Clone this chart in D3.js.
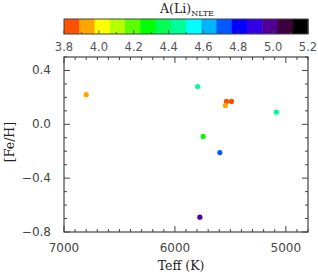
<!DOCTYPE html>
<html>
<head>
<meta charset="utf-8">
<script src="https://cdn.jsdelivr.net/npm/d3@7"></script>
<style>
  body { margin: 0; background: #fff; }
  svg { display: block; }
</style>
</head>
<body>
<script>
// star data
const teff = [6800, 5795, 5535, 5490, 5545, 5085, 5745, 5595, 5775];
const feh = [0.22, 0.28, 0.17, 0.17, 0.14, 0.09, -0.09, -0.21, -0.69];
const ali = [3.95, 4.45, 3.86, 3.86, 3.93, 4.45, 4.25, 4.75, 5.0];

const cbColors = ["#ff4f00", "#ffa500", "#ffff00", "#b5ff00", "#5aff00", "#00ff00",
    "#00ff55", "#00ff99", "#00ffff", "#00b4ff", "#005aff", "#0000ff",
    "#3200e6", "#500096", "#3c003c", "#000000"];
const cbTicks = [3.8, 4.0, 4.2, 4.4, 4.6, 4.8, 5.0, 5.2];
const xTicks = [7000, 6000, 5000];
const yTicks = [0.4, 0.0, -0.4, -0.8];

const width = 318, height = 275;
const m = {left: 64, right: 308, top: 57, bottom: 232};

const svg = d3.select('body').append('svg')
    .attr("width", width).attr("height", height);

const x = d3.scaleLinear().domain([7000, 4800]).range([m.left, m.right]);
const y = d3.scaleLinear().domain([-0.8, 0.5]).range([m.bottom, m.top]);

const cb = d3.scaleLinear().domain([3.8, 5.2]).range([m.left, m.right]);
const color = d3.scaleQuantize().domain([3.8, 5.2]).range(cbColors);

const axisCol = "#444";
const labFont = "DejaVu Sans, sans-serif";
const serif = "DejaVu Serif, serif";

// colour bar
const cbTop = 19, cbH = 15;
const step = 1.4 / cbColors.length;
svg.append("g")
    .selectAll("rect")
    .data(cbColors)
    .enter()
    .append("rect")
    .attr("x", (d, i) => cb(3.8 + i * step))
    .attr("width", (d, i) => cb(3.8 + (i + 1) * step) - cb(3.8 + i * step) + 0.5)
    .attr("y", cbTop)
    .attr("height", cbH)
    .attr("fill", d => d);

svg.append("rect")
    .attr("x", m.left).attr("y", cbTop)
    .attr("width", m.right - m.left).attr("height", cbH)
    .attr("fill", "none").attr("stroke", axisCol).attr("stroke-width", 1);

// small ticks on the colour bar
const cbMinor = d3.range(3.8, 5.2001, 0.1);
svg.append("g")
    .selectAll("line")
    .data(cbMinor)
    .enter()
    .append("line")
    .attr("x1", d => cb(d)).attr("x2", d => cb(d))
    .attr("y1", cbTop + cbH).attr("y2", (d, i) => cbTop + cbH - (i % 2 === 0 ? 4 : 2))
    .attr("stroke", axisCol).attr("stroke-width", 0.8);

svg.append("g")
    .selectAll("text")
    .data(cbTicks)
    .enter()
    .append("text")
    .attr("x", d => cb(d))
    .attr("y", 51)
    .attr("text-anchor", "middle")
    .style("font-family", labFont)
    .style("font-size", "11.5px")
    .style("fill", "#555")
    .text(d => d.toFixed(1));

const title = svg.append("text")
    .attr("x", 187).attr("y", 13)
    .attr("text-anchor", "middle")
    .style("font-family", serif)
    .style("font-size", "12.5px")
    .style("fill", "#222");
title.append("tspan").text("A(Li)");
title.append("tspan").attr("dy", 3).style("font-size", "8px").text("NLTE");

// plot frame
svg.append("rect")
    .attr("x", m.left).attr("y", m.top)
    .attr("width", m.right - m.left).attr("height", m.bottom - m.top)
    .attr("fill", "none").attr("stroke", axisCol).attr("stroke-width", 1.2);

// x ticks (bottom and top, inward)
const xMinor = d3.range(4800, 7001, 100);
const xg = svg.append("g");
xg.selectAll("line.b")
    .data(xMinor)
    .enter()
    .append("line")
    .attr("x1", d => x(d)).attr("x2", d => x(d))
    .attr("y1", m.bottom).attr("y2", d => m.bottom - (d % 1000 === 0 ? 6 : 3))
    .attr("stroke", axisCol);
xg.selectAll("line.t")
    .data(xMinor)
    .enter()
    .append("line")
    .attr("x1", d => x(d)).attr("x2", d => x(d))
    .attr("y1", m.top).attr("y2", d => m.top + (d % 1000 === 0 ? 6 : 3))
    .attr("stroke", axisCol);
xg.selectAll("text")
    .data(xTicks)
    .enter()
    .append("text")
    .attr("x", d => x(d))
    .attr("y", 252)
    .attr("text-anchor", "middle")
    .style("font-family", labFont)
    .style("font-size", "12px")
    .style("fill", "#444")
    .text(d => d);

// y ticks (left and right, inward)
const yMinor = d3.range(-8, 6).map(d => d / 10);
const yg = svg.append("g");
yg.selectAll("line.l")
    .data(yMinor)
    .enter()
    .append("line")
    .attr("y1", d => y(d)).attr("y2", d => y(d))
    .attr("x1", m.left).attr("x2", d => m.left + (Math.round(d * 10) % 4 === 0 ? 6 : 3))
    .attr("stroke", axisCol);
yg.selectAll("line.r")
    .data(yMinor)
    .enter()
    .append("line")
    .attr("y1", d => y(d)).attr("y2", d => y(d))
    .attr("x1", m.right).attr("x2", d => m.right - (Math.round(d * 10) % 4 === 0 ? 6 : 3))
    .attr("stroke", axisCol);
yg.selectAll("text")
    .data(yTicks)
    .enter()
    .append("text")
    .attr("x", 51)
    .attr("y", d => y(d) + 4)
    .attr("text-anchor", "end")
    .style("font-family", labFont)
    .style("font-size", "12px")
    .style("fill", "#444")
    .text(d => d3.format(".1f")(d).replace("-", "\u2212"));

// axis titles
svg.append("text")
    .attr("x", 181).attr("y", 270)
    .attr("text-anchor", "middle")
    .style("font-family", serif)
    .style("font-size", "12.5px")
    .style("fill", "#222")
    .text("Teff (K)");

svg.append("text")
    .attr("transform", "translate(14,142) rotate(-90)")
    .attr("text-anchor", "middle")
    .style("font-family", serif)
    .style("font-size", "12.5px")
    .style("fill", "#222")
    .text("[Fe/H]");

// stars
svg.append("g")
    .selectAll("circle")
    .data(teff)
    .enter()
    .append("circle")
    .attr("cx", d => x(d))
    .attr("cy", (d, i) => y(feh[i]))
    .attr("r", 2.6)
    .attr("fill", (d, i) => color(ali[i]));
</script>
</body>
</html>
